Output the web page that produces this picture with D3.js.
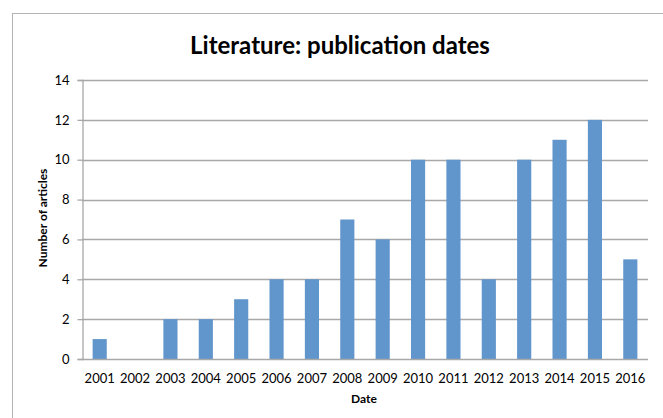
<!DOCTYPE html>
<html>
<head>
<meta charset="utf-8">
<script src="https://cdn.jsdelivr.net/npm/d3@7"></script>
<style>
  html, body { margin: 0; padding: 0; background: #fff; }
  svg { display: block; }
  text { font-family: Lato, "Open Sans", "Liberation Sans", sans-serif; fill: #000; }
</style>
</head>
<body>
<svg id="chart" width="663" height="418"></svg>
<script>
// Publication counts per year
const years = ["2001","2002","2003","2004","2005","2006","2007","2008",
               "2009","2010","2011","2012","2013","2014","2015","2016"];
const articles = [1, 0, 2, 2, 3, 4, 4, 7, 6, 10, 10, 4, 10, 11, 12, 5];
const yTicks = [0, 2, 4, 6, 8, 10, 12, 14];

const svg = d3.select("#chart");
const W = 663, H = 418;
const plot = { left: 82, right: 648, top: 80, bottom: 359 };

// outer chart frame
svg.append("rect")
  .attr("x", 12.5).attr("y", 13.5)
  .attr("width", W + 20).attr("height", H + 20)
  .attr("fill", "#fff").attr("stroke", "#b3b3b3").attr("stroke-width", 1);

const x = d3.scaleBand().domain(years).range([plot.left, plot.right]).paddingInner(0.6).paddingOuter(0.3);
const y = d3.scaleLinear().domain([0, 14]).range([plot.bottom, plot.top]);

// horizontal gridlines
svg.append("g").selectAll("line").data(yTicks.filter(d => d > 0)).join("line")
  .attr("x1", plot.left).attr("x2", plot.right)
  .attr("y1", d => Math.round(y(d)) + 0.5).attr("y2", d => Math.round(y(d)) + 0.5)
  .attr("stroke", "#a8a8a8").attr("stroke-width", 1.3);

// bars
svg.append("g").selectAll("rect").data(articles).join("rect")
  .attr("x", (d, i) => x(years[i]))
  .attr("width", x.bandwidth())
  .attr("y", d => y(d))
  .attr("height", d => y(0) - y(d))
  .attr("fill", "#6196cc");

// y axis
const yAxis = svg.append("g")
  .attr("transform", `translate(${plot.left + 0.5},0)`)
  .call(d3.axisLeft(y).tickValues(yTicks).tickSize(5).tickPadding(8).tickFormat(d3.format("d")));
yAxis.select(".domain").attr("stroke", "#a8a8a8").attr("stroke-width", 1.3);
yAxis.selectAll(".tick line").attr("stroke", "#a8a8a8").attr("stroke-width", 1.3);
yAxis.selectAll(".tick text").style("font-size", "13px").style("font-family", "Lato, 'Open Sans', sans-serif");

// x axis
const xAxis = svg.append("g")
  .attr("transform", `translate(0,${plot.bottom + 0.5})`)
  .call(d3.axisBottom(x).tickSize(0).tickPadding(14));
xAxis.select(".domain").attr("stroke", "#a8a8a8").attr("stroke-width", 1.3)
  .attr("d", `M${plot.left},0H${plot.right}`);
xAxis.selectAll(".tick text").style("font-size", "13px").style("font-family", "Lato, 'Open Sans', sans-serif");

// title
svg.append("text")
  .attr("x", 340).attr("y", 54)
  .attr("text-anchor", "middle")
  .style("font-size", "24px").style("font-weight", "bold")
  .text("Literature: publication dates");

// axis titles
svg.append("text")
  .attr("x", 364).attr("y", 403)
  .attr("text-anchor", "middle")
  .style("font-size", "12px").style("font-weight", "bold")
  .text("Date");

svg.append("text")
  .attr("transform", "translate(47,218) rotate(-90)")
  .attr("text-anchor", "middle")
  .style("font-size", "12px").style("font-weight", "bold")
  .text("Number of articles");
</script>
</body>
</html>
